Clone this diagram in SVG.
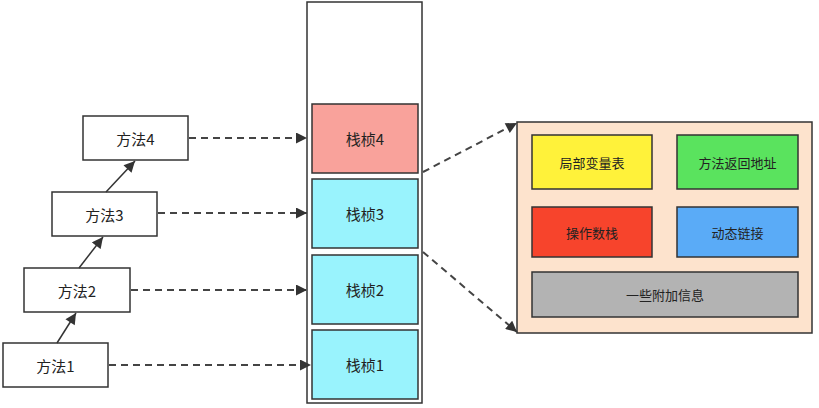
<svg xmlns="http://www.w3.org/2000/svg" width="819" height="408" viewBox="0 0 819 408">
<defs>
<marker id="ah" viewBox="0 0 10 10" refX="10" refY="5" markerWidth="12" markerHeight="11" markerUnits="userSpaceOnUse" orient="auto">
<path d="M0,0 L10,5 L0,10 Z" fill="#333"/>
</marker>
<style>
.box{stroke:#333;stroke-width:1.5}
.t{font-family:"Noto Sans CJK SC","Liberation Sans",sans-serif;font-size:15px;fill:#222;text-anchor:middle;dominant-baseline:central}
.s{font-size:13px}
.solid{stroke:#333;stroke-width:1.5;fill:none}
.dash{stroke:#444;stroke-width:2;stroke-dasharray:7 5;fill:none}
</style>
</defs>
<rect width="819" height="408" fill="#fff"/>
<g id="m4"><rect class="box" x="83" y="116" width="105" height="44" fill="#fff"/><text class="t" x="135.5" y="138">方法4</text></g>
<g id="m3"><rect class="box" x="52" y="192" width="105" height="44" fill="#fff"/><text class="t" x="104.5" y="214">方法3</text></g>
<g id="m2"><rect class="box" x="24" y="268" width="106" height="44" fill="#fff"/><text class="t" x="77" y="290">方法2</text></g>
<g id="m1"><rect class="box" x="3" y="343" width="105" height="44" fill="#fff"/><text class="t" x="55.5" y="365">方法1</text></g>
<g id="stack"><rect class="box" x="307" y="2" width="115" height="401" fill="#fff"/></g>
<g id="f4"><rect class="box" x="312" y="104" width="106" height="69" fill="#f9a29b"/><text class="t" x="365" y="138.5">栈桢4</text></g>
<g id="f3"><rect class="box" x="312" y="179" width="106" height="69" fill="#99f3fd"/><text class="t" x="365" y="213.5">栈桢3</text></g>
<g id="f2"><rect class="box" x="312" y="255" width="106" height="69" fill="#99f3fd"/><text class="t" x="365" y="289.5">栈桢2</text></g>
<g id="f1"><rect class="box" x="312" y="330" width="106" height="69" fill="#99f3fd"/><text class="t" x="365" y="364.5">栈桢1</text></g>
<g id="detail"><rect class="box" x="517" y="122" width="295" height="211" fill="#fde3cd"/></g>
<g id="d1"><rect class="box" x="532" y="135" width="120" height="54" fill="#fff23a"/><text class="t s" x="592" y="162">局部变量表</text></g>
<g id="d2"><rect class="box" x="677" y="135" width="121" height="54" fill="#5ae35e"/><text class="t s" x="737.5" y="162">方法返回地址</text></g>
<g id="d3"><rect class="box" x="532" y="207" width="120" height="50" fill="#f7442c"/><text class="t s" x="592" y="232">操作数栈</text></g>
<g id="d4"><rect class="box" x="677" y="207" width="121" height="50" fill="#5aabf7"/><text class="t s" x="737.5" y="232">动态链接</text></g>
<g id="d5"><rect class="box" x="532" y="272" width="266" height="45" fill="#b3b3b3"/><text class="t s" x="665" y="294.5">一些附加信息</text></g>
<g id="connectors">
<line class="solid" x1="57" y1="343" x2="76" y2="313" marker-end="url(#ah)"/>
<line class="solid" x1="79" y1="268" x2="103" y2="237" marker-end="url(#ah)"/>
<line class="solid" x1="106" y1="192" x2="135" y2="161" marker-end="url(#ah)"/>
<line class="dash" x1="189" y1="138" x2="307" y2="138" marker-end="url(#ah)"/>
<line class="dash" x1="158" y1="213" x2="307" y2="213" marker-end="url(#ah)"/>
<line class="dash" x1="131" y1="290" x2="307" y2="290" marker-end="url(#ah)"/>
<line class="dash" x1="109" y1="365" x2="311" y2="365" marker-end="url(#ah)"/>
<line class="dash" x1="423" y1="172" x2="517" y2="123" marker-end="url(#ah)"/>
<line class="dash" x1="423" y1="252" x2="517" y2="332" marker-end="url(#ah)"/>
</g>
</svg>
